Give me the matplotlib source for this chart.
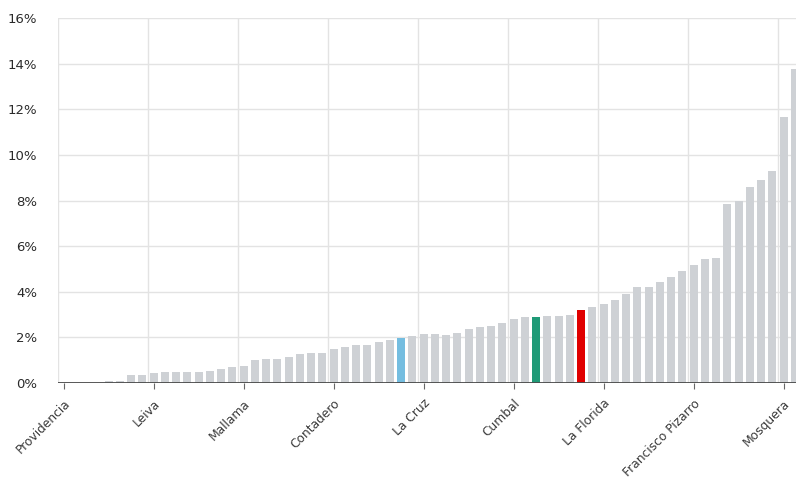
import matplotlib
matplotlib.use("Agg")
import matplotlib.pyplot as plt
import numpy as np

# Values (%) for each municipality, sorted ascending
values = [0.0, 0.0, 0.0, 0.0, 0.08, 0.10, 0.35, 0.37, 0.44, 0.48,
          0.48, 0.48, 0.48, 0.54, 0.62, 0.70, 0.76, 1.00, 1.07, 1.07,
          1.14, 1.25, 1.32, 1.32, 1.50, 1.57, 1.67, 1.67, 1.79, 1.90,
          1.98, 2.06, 2.13, 2.13, 2.10, 2.17, 2.38, 2.47, 2.52, 2.64,
          2.79, 2.90, 2.90, 2.94, 2.94, 3.00, 3.20, 3.35, 3.45, 3.64,
          3.92, 4.19, 4.21, 4.43, 4.63, 4.92, 5.17, 5.43, 5.46, 7.85,
          8.00, 8.59, 8.88, 9.28, 11.67, 13.77]

# Labelled categories (every 8th bar)
label_positions = [0, 8, 16, 24, 32, 40, 48, 56, 64]
label_names = ["Providencia", "Leiva", "Mallama", "Contadero", "La Cruz",
               "Cumbal", "La Florida", "Francisco Pizarro", "Mosquera"]

# Highlighted bars
highlight_idx = [30, 42, 46]
highlight_col = ["#74bde0", "#1f9a77", "#e00000"]

y_ticks = [0, 2, 4, 6, 8, 10, 12, 14, 16]

base_col = "#ced1d5"
colors = [base_col] * len(values)
for i, c in zip(highlight_idx, highlight_col):
    colors[i] = c

fig = plt.figure(figsize=(7.96, 4.80), dpi=100)
ax = fig.add_axes([58/796, 97/480, 1 - 58/796, 365/480])

x = np.arange(len(values))
ax.bar(x, values, width=0.72, color=colors, zorder=2)

ax.set_ylim(0, 16)
ax.set_xlim(-0.5, 65.1)

# grid lines: horizontal at y ticks, vertical at category boundaries
for yt in y_ticks[1:]:
    ax.axhline(yt, color="#e3e3e3", lw=1.0, zorder=0)
for k in range(0, 9):
    ax.axvline(-0.5 + 8 * k, color="#e3e3e3", lw=1.0, zorder=0)

ax.axhline(0, color="#4a4a4a", lw=1.3, zorder=3)

ax.set_yticks(y_ticks)
ax.set_yticklabels([f"{v}%" for v in y_ticks], fontsize=9.5, color="#2a2a2a")
ax.tick_params(axis="y", length=0, pad=15)

ax.set_xticks(label_positions)
ax.set_xticklabels(label_names, rotation=45, ha="right", rotation_mode="anchor",
                   fontsize=8.8, color="#3a3a3a")
ax.tick_params(axis="x", length=4, width=0.8, color="#666666", pad=6)

for s in ax.spines.values():
    s.set_visible(False)

fig.savefig("out.png", dpi=100)
